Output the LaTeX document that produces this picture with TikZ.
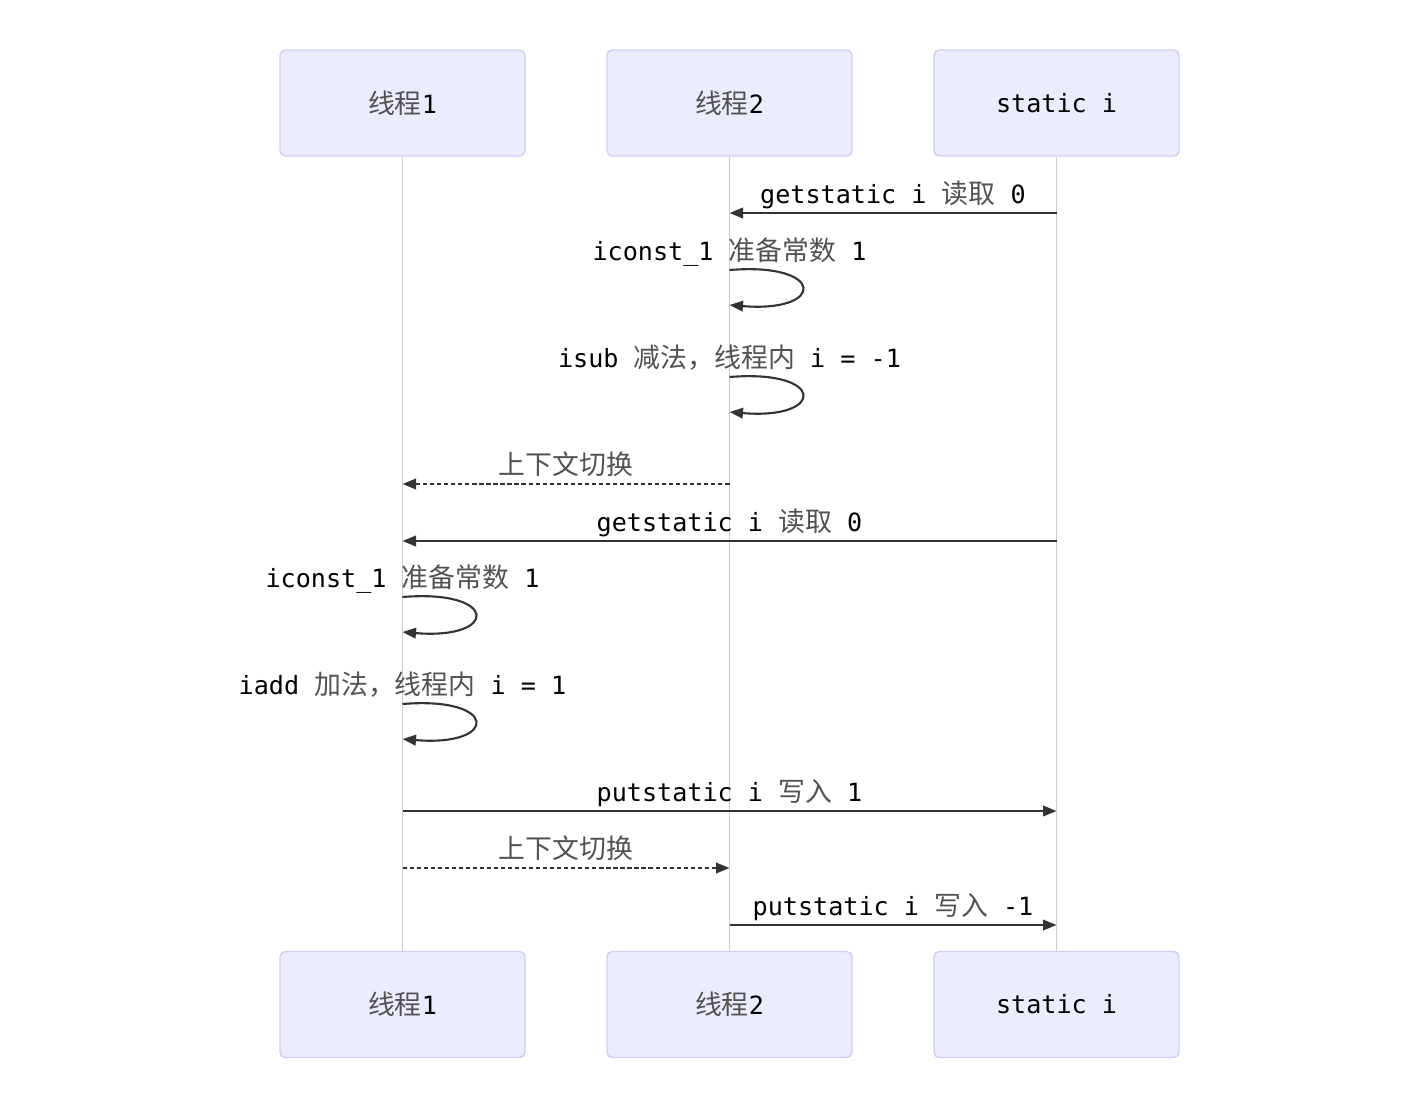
\documentclass[tikz,border=0pt]{standalone}
\usepackage{fontspec}
\setmainfont{DejaVu Sans Mono}
\newfontfamily\cjkfont[Scale=1.07]{Noto Sans CJK SC}
\newcommand{\zh}[1]{{\cjkfont\color{black!68}#1}}
\usetikzlibrary{arrows.meta}

\definecolor{actorfill}{RGB}{236,236,255}
\definecolor{actorline}{RGB}{208,204,246}
\definecolor{msgcol}{RGB}{51,51,51}

\begin{document}
\begin{tikzpicture}[x=0.02cm, y=-0.02cm,
    actor/.style={draw=actorline, fill=actorfill, rounded corners=3pt,
      line width=0.8pt, minimum width=4.9cm, minimum height=2.12cm,
      font=\fontsize{14.3pt}{16pt}\selectfont},
    lifeline/.style={draw=black!20, line width=1pt},
    msg/.style={draw=msgcol, line width=1.2pt,
      -{Triangle[length=0.27cm, width=0.21cm]}},
    switch/.style={msg, dash pattern=on 2.4pt off 1.6pt},
    lbl/.style={font=\fontsize{14.3pt}{16pt}\selectfont, text=black,
      inner sep=0pt, anchor=base, yshift=0.2cm}]
  \useasboundingbox (0,0) rectangle (1415,1110);

  % actors
  \node[actor] (t1top) at ( 402.5, 103.0) {\zh{线程}1};
  \node[actor] (t2top) at ( 729.5, 103.0) {\zh{线程}2};
  \node[actor] (sitop) at (1056.5, 103.0) {static i};
  \node[actor] (t1bot) at ( 402.5,1004.5) {\zh{线程}1};
  \node[actor] (t2bot) at ( 729.5,1004.5) {\zh{线程}2};
  \node[actor] (sibot) at (1056.5,1004.5) {static i};

  \draw[lifeline] (t1top) -- (t1bot);
  \draw[lifeline] (t2top) -- (t2bot);
  \draw[lifeline] (sitop) -- (sibot);

  % message ends
  \coordinate (m1s) at (1056.5, 213);
  \coordinate (m1e) at ( 729.5, 213);
  \coordinate (c1s) at ( 729.5, 270);
  \coordinate (c1e) at ( 729.5, 305);
  \coordinate (c2s) at ( 729.5, 377);
  \coordinate (c2e) at ( 729.5, 412);
  \coordinate (m2s) at ( 729.5, 484);
  \coordinate (m2e) at ( 402.5, 484);
  \coordinate (m3s) at (1056.5, 541);
  \coordinate (m3e) at ( 402.5, 541);
  \coordinate (c3s) at ( 402.5, 597);
  \coordinate (c3e) at ( 402.5, 632);
  \coordinate (c4s) at ( 402.5, 704);
  \coordinate (c4e) at ( 402.5, 739);
  \coordinate (m4s) at ( 402.5, 811);
  \coordinate (m4e) at (1056.5, 811);
  \coordinate (m5s) at ( 402.5, 868);
  \coordinate (m5e) at ( 729.5, 868);
  \coordinate (m6s) at ( 729.5, 925);
  \coordinate (m6e) at (1056.5, 925);

  % messages
  \draw[msg] (m1s) -- node[lbl] {getstatic i \zh{读取} 0} (m1e);
  \draw[msg] (c1s) node[lbl] {iconst\_1 \zh{准备常数} 1}
    .. controls (826,262) and (826,313) .. (c1e);
  \draw[msg] (c2s) node[lbl] {isub \zh{减法，线程内} i = -1}
    .. controls (826,369) and (826,420) .. (c2e);
  \draw[switch] (m2s) -- node[lbl] {\zh{上下文切换}} (m2e);
  \draw[msg] (m3s) -- node[lbl] {getstatic i \zh{读取} 0} (m3e);
  \draw[msg] (c3s) node[lbl] {iconst\_1 \zh{准备常数} 1}
    .. controls (499,589) and (499,640) .. (c3e);
  \draw[msg] (c4s) node[lbl] {iadd \zh{加法，线程内} i = 1}
    .. controls (499,696) and (499,747) .. (c4e);
  \draw[msg] (m4s) -- node[lbl] {putstatic i \zh{写入} 1} (m4e);
  \draw[switch] (m5s) -- node[lbl] {\zh{上下文切换}} (m5e);
  \draw[msg] (m6s) -- node[lbl] {putstatic i \zh{写入} -1} (m6e);
\end{tikzpicture}
\end{document}
